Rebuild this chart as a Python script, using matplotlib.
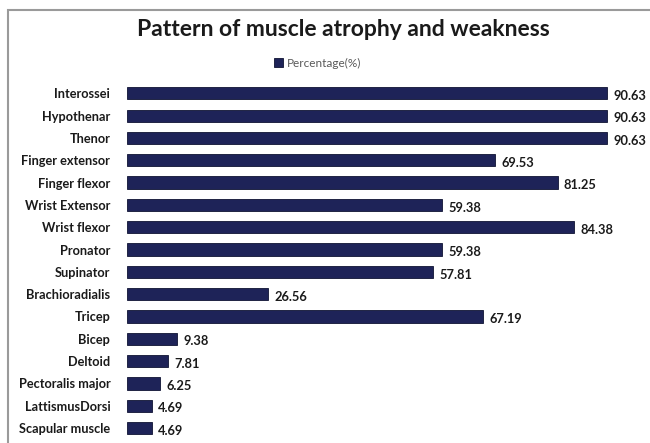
import matplotlib.pyplot as plt
from matplotlib.patches import Rectangle

# Muscle groups, top to bottom
muscles = ["Interossei", "Hypothenar", "Thenor", "Finger extensor", "Finger flexor",
           "Wrist Extensor", "Wrist flexor", "Pronator", "Supinator", "Brachioradialis",
           "Tricep", "Bicep", "Deltoid", "Pectoralis major", "LattismusDorsi",
           "Scapular muscle"]
percentages = [90.63, 90.63, 90.63, 69.53, 81.25, 59.38, 84.38, 59.38, 57.81, 26.56,
               67.19, 9.38, 7.81, 6.25, 4.69, 4.69]

bar_color = "#1e2358"
text_color = "#1a1a1a"

plt.rcParams['font.family'] = ['Lato', 'DejaVu Sans']

fig = plt.figure(figsize=(6.5, 4.43), dpi=100)

# chart border (runs off the right and bottom)
fig.patches.append(Rectangle((8 / 650, -0.1), 1.0, 1 - 10 / 443 + 0.1,
                             transform=fig.transFigure, fill=False,
                             edgecolor="#9a9a9a", linewidth=1.5))

ax = fig.add_axes([127 / 650, 1 - 439.2 / 443, 513 / 650, 357 / 443])
ypos = list(range(len(muscles)))
ax.barh(ypos, percentages, height=0.55, color=bar_color, edgecolor="#0f1333",
        linewidth=0.6, label="Percentage(%)")
ax.set_xlim(0, 96.8)
ax.set_ylim(len(muscles) - 0.5, -0.5)

for y, v in zip(ypos, percentages):
    ax.text(v + 1.2, y + 0.12, f"{v:.2f}", ha="left", va="center",
            fontsize=9.3, fontweight="bold", color=text_color)

ax.set_yticks(ypos)
ax.set_yticklabels(muscles, fontsize=9.2, fontweight="bold", color=text_color)
ax.tick_params(axis="y", length=0, pad=12)
ax.set_xticks([])
for s in ax.spines.values():
    s.set_visible(False)

fig.text(343 / 650, 1 - 30 / 443, "Pattern of muscle atrophy and weakness",
         ha="center", va="center", fontsize=16.5, fontweight="bold", color=text_color)
fig.legend(loc="center", bbox_to_anchor=(318 / 650, 1 - 63 / 443), frameon=False,
           fontsize=8.5, handlelength=0.7, handleheight=0.7, handletextpad=0.4,
           labelcolor="#595959")

fig.savefig("out.png", dpi=100)
